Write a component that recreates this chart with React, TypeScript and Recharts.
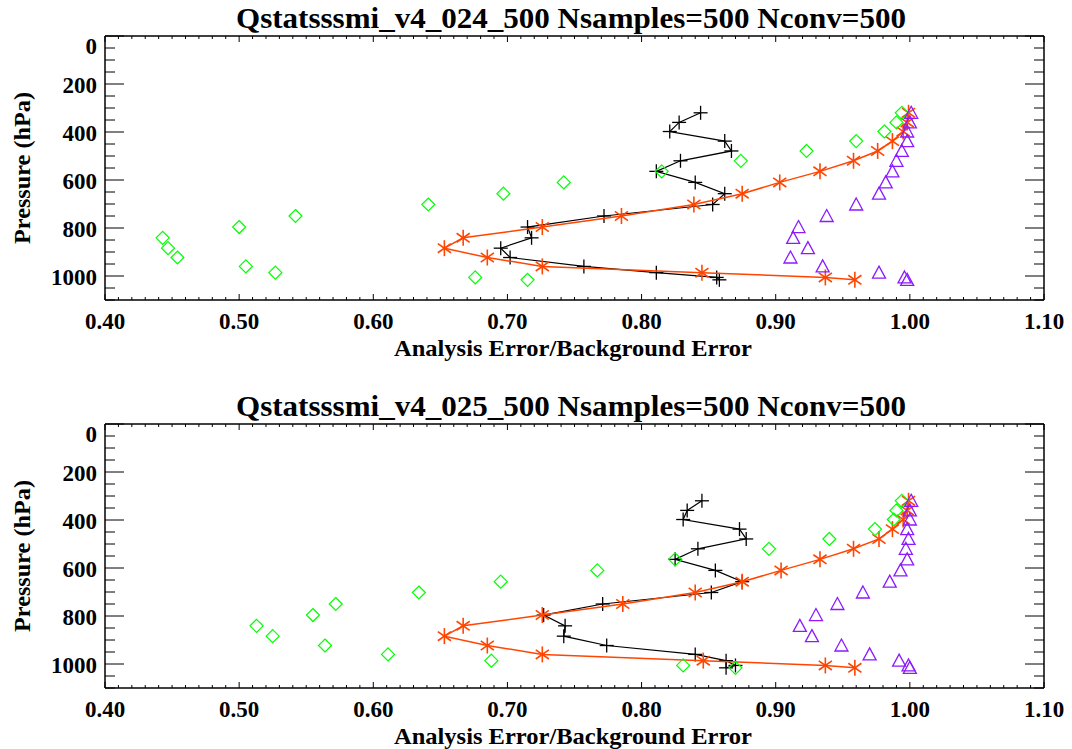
import React from "react";
import { ScatterChart, Scatter, XAxis, YAxis, Label } from "recharts";

// ---------- data ----------
const PRESSURE_LEVELS = [320, 360, 398, 438, 479, 520, 564, 610, 657, 702, 750, 796, 841, 884, 923, 960, 986, 1006, 1016];

const TITLES = [
  "Qstatsssmi_v4_024_500 Nsamples=500 Nconv=500",
  "Qstatsssmi_v4_025_500 Nsamples=500 Nconv=500",
];

const BLACK_024 = [0.844, 0.828, 0.821, 0.862, 0.867, 0.829, 0.811, 0.840, 0.862, 0.853, 0.772, 0.715, 0.718, 0.695, 0.702, 0.757, 0.811, 0.856, 0.858];
const ORANGE_024 = [0.999, 0.998, 0.995, 0.987, 0.976, 0.958, 0.933, 0.903, 0.875, 0.839, 0.785, 0.726, 0.667, 0.653, 0.685, 0.726, 0.845, 0.937, 0.959];
const GREEN_024 = [0.994, 0.990, 0.981, 0.960, 0.923, 0.874, 0.815, 0.742, 0.697, 0.641, 0.542, 0.500, 0.443, 0.447, 0.454, 0.505, 0.527, 0.676, 0.715];
const PURPLE_024 = [1.001, 1.000, 0.998, 0.998, 0.994, 0.990, 0.987, 0.982, 0.977, 0.960, 0.938, 0.917, 0.913, 0.924, 0.911, 0.935, 0.977, 0.996, 0.998];

const BLACK_025 = [0.845, 0.834, 0.831, 0.873, 0.878, 0.842, 0.825, 0.855, 0.875, 0.852, 0.771, 0.727, 0.743, 0.742, 0.774, 0.840, 0.863, 0.870, 0.863];
const ORANGE_025 = [0.999, 0.998, 0.995, 0.987, 0.977, 0.958, 0.933, 0.904, 0.875, 0.840, 0.786, 0.726, 0.667, 0.653, 0.685, 0.726, 0.846, 0.937, 0.959];
const GREEN_025 = [0.994, 0.990, 0.988, 0.974, 0.940, 0.895, 0.825, 0.767, 0.695, 0.634, 0.572, 0.555, 0.513, 0.525, 0.564, 0.611, 0.688, 0.831, 0.870];
const PURPLE_025 = [1.001, 1.000, 1.000, 0.998, 0.999, 0.997, 0.998, 0.993, 0.985, 0.965, 0.946, 0.930, 0.918, 0.927, 0.949, 0.970, 0.992, 0.999, 1.000];

const X_MAJOR_TICKS = [0.4, 0.5, 0.6, 0.7, 0.8, 0.9, 1.0, 1.1];
const Y_MAJOR_TICKS = [0, 200, 400, 600, 800, 1000];
const Y_DOMAIN_MAX = 1100;
const X_TITLE = "Analysis Error/Background Error";
const Y_TITLE = "Pressure (hPa)";

// ---------- derived tick lists ----------
const X_MINOR_PER_MAJOR = 10;
const X_TICKS: number[] = [];
{
  const step = (X_MAJOR_TICKS[1] - X_MAJOR_TICKS[0]) / X_MINOR_PER_MAJOR;
  const n = (X_MAJOR_TICKS.length - 1) * X_MINOR_PER_MAJOR;
  for (let i = 0; i <= n; i++) X_TICKS.push(Math.round((X_MAJOR_TICKS[0] + i * step) * 1000) / 1000);
}
const Y_TICKS: number[] = [];
{
  const step = (Y_MAJOR_TICKS[1] - Y_MAJOR_TICKS[0]) / 4;
  for (let v = 0; v <= Y_DOMAIN_MAX; v += step) Y_TICKS.push(v);
}
const isXMajor = (v: number) => X_MAJOR_TICKS.some((m) => Math.abs(m - v) < 1e-6);
const isYMajor = (v: number) => Y_MAJOR_TICKS.includes(v);

const toPoints = (vals: number[]) => PRESSURE_LEVELS.map((p, i) => ({ v: vals[i], p }));

// ---------- styles ----------
const FONT = "'Liberation Serif', 'Times New Roman', serif";
const AXIS_LINE = { stroke: "#000", strokeWidth: 1.5 };
const BLACK = "#000000";
const ORANGE = "#ff4500";
const GREEN = "#00ff00";
const PURPLE = "#8c1aff";

// ---------- ticks ----------
const BottomTick = (props: any) => {
  const { x, y, payload } = props;
  const v = payload.value;
  const major = isXMajor(v);
  return (
    <g>
      <line x1={x} y1={y} x2={x} y2={y - (major ? 6 : 3)} stroke="#000" strokeWidth={1} />
      {major && (
        <text x={x} y={y + 29} textAnchor="middle" fontFamily={FONT} fontWeight="bold" fontSize={23} fill="#000">
          {v.toFixed(2)}
        </text>
      )}
    </g>
  );
};
const TopTick = (props: any) => {
  const { x, y, payload } = props;
  const major = isXMajor(payload.value);
  return <line x1={x} y1={y} x2={x} y2={y + (major ? 6 : 3)} stroke="#000" strokeWidth={1} />;
};
const LeftTick = (props: any) => {
  const { x, y, payload } = props;
  const v = payload.value;
  const major = isYMajor(v);
  return (
    <g>
      <line x1={x} y1={y} x2={x + (major ? 19 : 10)} y2={y} stroke="#000" strokeWidth={1} />
      {major && (
        <text x={x - 8} y={y + (v === 0 ? 18 : 9)} textAnchor="end" fontFamily={FONT} fontWeight="bold" fontSize={23} fill="#000">
          {v}
        </text>
      )}
    </g>
  );
};
const RightTick = (props: any) => {
  const { x, y, payload } = props;
  const major = isYMajor(payload.value);
  return <line x1={x} y1={y} x2={x - (major ? 19 : 10)} y2={y} stroke="#000" strokeWidth={1} />;
};

// ---------- markers ----------
const PlusMark = (props: any) => {
  const { cx, cy } = props;
  const r = 7;
  return (
    <g stroke={BLACK} strokeWidth={1.3}>
      <line x1={cx - r} y1={cy} x2={cx + r} y2={cy} />
      <line x1={cx} y1={cy - r} x2={cx} y2={cy + r} />
    </g>
  );
};
const AsteriskMark = (props: any) => {
  const { cx, cy } = props;
  const r = 8;
  const dx = r * Math.cos((35 * Math.PI) / 180);
  const dy = r * Math.sin((35 * Math.PI) / 180);
  return (
    <g stroke={ORANGE} strokeWidth={1.6}>
      <line x1={cx} y1={cy - r} x2={cx} y2={cy + r} />
      <line x1={cx - dx} y1={cy - dy} x2={cx + dx} y2={cy + dy} />
      <line x1={cx - dx} y1={cy + dy} x2={cx + dx} y2={cy - dy} />
    </g>
  );
};
const DiamondMark = (props: any) => {
  const { cx, cy } = props;
  const r = 6.5;
  return (
    <polygon
      points={`${cx},${cy - r} ${cx + r},${cy} ${cx},${cy + r} ${cx - r},${cy}`}
      fill="none"
      stroke={GREEN}
      strokeWidth={1.2}
    />
  );
};
const TriangleMark = (props: any) => {
  const { cx, cy } = props;
  const w = 6.5;
  return (
    <polygon
      points={`${cx},${cy - 6.5} ${cx + w},${cy + 5.5} ${cx - w},${cy + 5.5}`}
      fill="none"
      stroke={PURPLE}
      strokeWidth={1.3}
    />
  );
};

// ---------- panel ----------
type PanelProps = {
  title: string;
  black: number[];
  orange: number[];
  green: number[];
  purple: number[];
  height: number;
};

function Panel({ title, black, orange, green, purple, height }: PanelProps) {
  return (
    <ScatterChart width={1072} height={height} margin={{ top: 0, right: 0, bottom: 0, left: 0 }}>
      <XAxis
        xAxisId="b"
        type="number"
        dataKey="v"
        orientation="bottom"
        domain={[X_MAJOR_TICKS[0], X_MAJOR_TICKS[X_MAJOR_TICKS.length - 1]]}
        ticks={X_TICKS}
        interval={0}
        height={height - 300}
        tickSize={0}
        tickMargin={0}
        tickLine={false}
        axisLine={AXIS_LINE}
        tick={BottomTick}
        allowDataOverflow
      >
        <Label
          content={() => (
            <text
              x={573}
              y={356}
              textAnchor="middle"
              fontFamily={FONT}
              fontWeight="bold"
              fontSize={23}
              fill="#000"
              textLength={358}
              lengthAdjust="spacingAndGlyphs"
            >
              {X_TITLE}
            </text>
          )}
        />
      </XAxis>
      <XAxis
        xAxisId="t"
        type="number"
        dataKey="v"
        orientation="top"
        domain={[X_MAJOR_TICKS[0], X_MAJOR_TICKS[X_MAJOR_TICKS.length - 1]]}
        ticks={X_TICKS}
        interval={0}
        height={36}
        tickSize={0}
        tickMargin={0}
        tickLine={false}
        axisLine={AXIS_LINE}
        tick={TopTick}
        allowDataOverflow
      >
        <Label
          content={() => (
            <text
              x={571}
              y={28}
              textAnchor="middle"
              fontFamily={FONT}
              fontWeight="bold"
              fontSize={29}
              fill="#000"
              textLength={670}
              lengthAdjust="spacingAndGlyphs"
            >
              {title}
            </text>
          )}
        />
      </XAxis>
      <YAxis
        yAxisId="l"
        type="number"
        dataKey="p"
        orientation="left"
        domain={[0, Y_DOMAIN_MAX]}
        reversed
        ticks={Y_TICKS}
        interval={0}
        width={105}
        tickSize={0}
        tickMargin={0}
        tickLine={false}
        axisLine={AXIS_LINE}
        tick={LeftTick}
        allowDataOverflow
      >
        <Label
          content={() => (
            <text
              x={30}
              y={168}
              transform="rotate(-90, 30, 168)"
              textAnchor="middle"
              fontFamily={FONT}
              fontWeight="bold"
              fontSize={23}
              fill="#000"
              textLength={152}
              lengthAdjust="spacingAndGlyphs"
            >
              {Y_TITLE}
            </text>
          )}
        />
      </YAxis>
      <YAxis
        yAxisId="r"
        type="number"
        dataKey="p"
        orientation="right"
        domain={[0, Y_DOMAIN_MAX]}
        reversed
        ticks={Y_TICKS}
        interval={0}
        width={28}
        tickSize={0}
        tickMargin={0}
        tickLine={false}
        axisLine={AXIS_LINE}
        tick={RightTick}
        allowDataOverflow
      />
      <Scatter
        xAxisId="b"
        yAxisId="l"
        data={toPoints(black)}
        line={{ stroke: BLACK, strokeWidth: 1.2 }}
        lineType="joint"
        shape={PlusMark}
        isAnimationActive={false}
      />
      <Scatter
        xAxisId="b"
        yAxisId="l"
        data={toPoints(orange)}
        line={{ stroke: ORANGE, strokeWidth: 1.5 }}
        lineType="joint"
        shape={AsteriskMark}
        isAnimationActive={false}
      />
      <Scatter xAxisId="b" yAxisId="l" data={toPoints(green)} shape={DiamondMark} isAnimationActive={false} />
      <Scatter xAxisId="b" yAxisId="l" data={toPoints(purple)} shape={TriangleMark} isAnimationActive={false} />
    </ScatterChart>
  );
}

export default function App() {
  return (
    <div style={{ position: "absolute", left: 0, top: 0, width: 1072, height: 749, background: "#fff" }}>
      <div style={{ position: "absolute", left: 0, top: 0 }}>
        <Panel title={TITLES[0]} black={BLACK_024} orange={ORANGE_024} green={GREEN_024} purple={PURPLE_024} height={388} />
      </div>
      <div style={{ position: "absolute", left: 0, top: 388 }}>
        <Panel title={TITLES[1]} black={BLACK_025} orange={ORANGE_025} green={GREEN_025} purple={PURPLE_025} height={361} />
      </div>
    </div>
  );
}
